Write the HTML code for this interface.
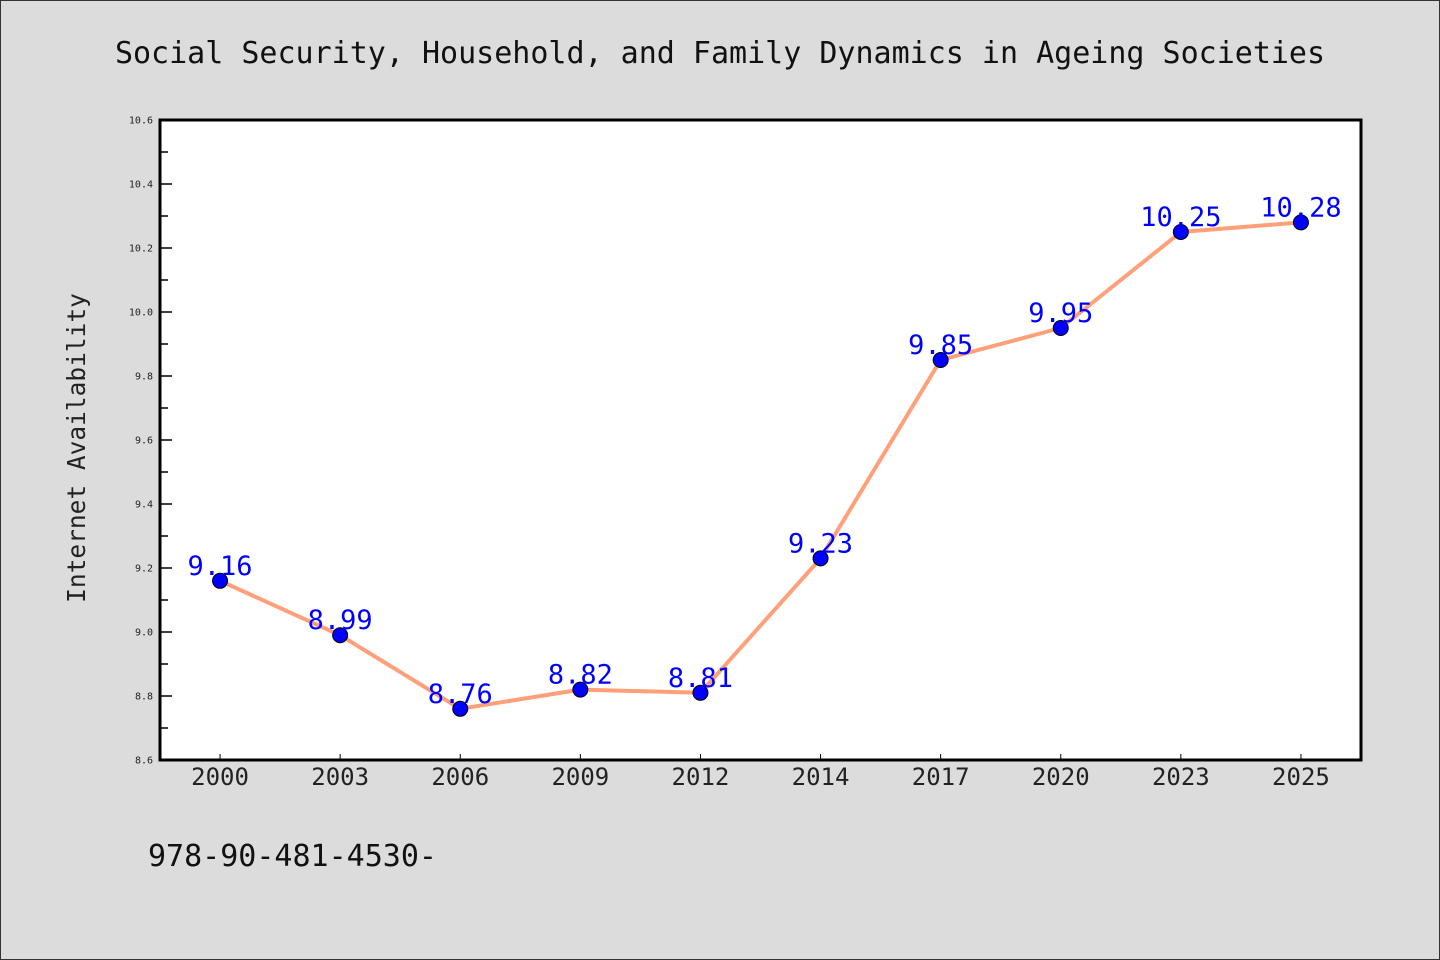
<!DOCTYPE html>
<html><head><meta charset="utf-8"><style>
html,body{margin:0;padding:0;background:#dcdcdc;}
svg{display:block;font-family:"DejaVu Sans Mono","Liberation Mono",monospace;}
</style></head><body>
<svg width="1440" height="960" xmlns="http://www.w3.org/2000/svg">
<rect x="0.5" y="0.5" width="1439" height="959" fill="#dcdcdc" stroke="#333"/>
<text x="720" y="63" text-anchor="middle" font-size="30" fill="#111">Social Security, Household, and Family Dynamics in Ageing Societies</text>
<rect x="160" y="120" width="1201" height="640" fill="#fff"/>
<g id="axes"></g>
<g id="series"></g>
<rect x="160" y="120" width="1201" height="640" fill="none" stroke="#000" stroke-width="3"/>
<text transform="translate(85,448) rotate(-90)" text-anchor="middle" font-size="24.5" fill="#222">Internet Availability</text>
<text x="148" y="866" font-size="30" fill="#111">978-90-481-4530-</text>
</svg>
<script>
const categories=["2000","2003","2006","2009","2012","2014","2017","2020","2023","2025"];
const values=[9.16,8.99,8.76,8.82,8.81,9.23,9.85,9.95,10.25,10.28];
const yTicks=[8.6,8.8,9.0,9.2,9.4,9.6,9.8,10.0,10.2,10.4,10.6];
const yMin=8.6,yMax=10.6;
const L=160,R=1361,T=120,B=760;
const NS="http://www.w3.org/2000/svg";
const band=(R-L)/categories.length;
function xs(i){return L+band*(i+0.5);}
function ys(v){return B-(v-yMin)/(yMax-yMin)*(B-T);}
function mk(t,a){const e=document.createElementNS(NS,t);for(const k in a)e.setAttribute(k,a[k]);return e;}
const ax=document.getElementById('axes'),se=document.getElementById('series');
yTicks.forEach((v,i)=>{
 const y=ys(v);
 const t=mk('line',{x1:L,x2:L+12,y1:y,y2:y,stroke:'#000','stroke-width':1.5});
 
 
 ax.appendChild(t);
 const lb=mk('text',{x:L-7,y:y+3.5,'text-anchor':'end','font-size':10,fill:'#222'});
 lb.textContent=v.toFixed(1);
 
 
 ax.appendChild(lb);
 if(i<yTicks.length-1){
  const ym=ys((v+yTicks[i+1])/2);
  const m=mk('line',{x1:L,x2:L+8,y1:ym,y2:ym,stroke:'#000','stroke-width':1.5});
  
  
  ax.appendChild(m);
 }
});
categories.forEach((c,i)=>{
 const x=xs(i);
 const t=mk('line',{x1:x,x2:x,y1:B,y2:B-6,stroke:'#000','stroke-width':1});
 
 
 ax.appendChild(t);
 const lb=mk('text',{x:x,y:B+25,'text-anchor':'middle','font-size':24,fill:'#222'});
 lb.textContent=c;
 
 
 ax.appendChild(lb);
});
const pl=mk('polyline',{points:values.map((v,i)=>xs(i)+','+ys(v)).join(' '),fill:'none',stroke:'#FFA07A','stroke-width':4,'stroke-linejoin':'round'});


se.appendChild(pl);
values.forEach((v,i)=>{
 const c=mk('circle',{cx:xs(i),cy:ys(v),r:7.5,fill:'#0000ff',stroke:'#000','stroke-width':1});
 
 
 se.appendChild(c);
 const t=mk('text',{x:xs(i),y:ys(v)-6,'text-anchor':'middle','font-size':27,fill:'#0000ff'});
 t.textContent=v.toFixed(2);
 
 
 se.appendChild(t);
});
</script>
</body></html>
